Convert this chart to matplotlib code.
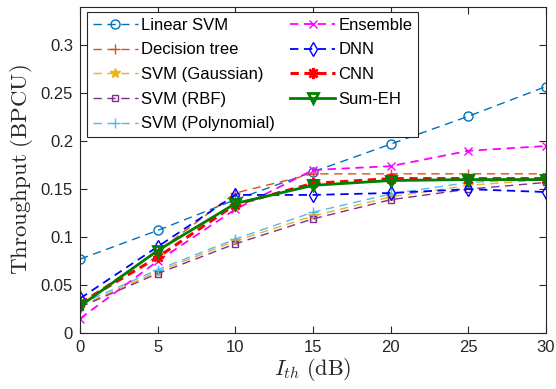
import matplotlib.pyplot as plt

plt.rcParams['font.family'] = ['Liberation Sans', 'DejaVu Sans']
plt.rcParams['mathtext.fontset'] = 'cm'
plt.rcParams['lines.scale_dashes'] = False
plt.rcParams['lines.dashed_pattern'] = [6, 4]

# Ith (dB)
ith = [0, 5, 10, 15, 20, 25, 30]

linear_svm = [0.077, 0.107, 0.139, 0.168, 0.197, 0.226, 0.257]
decision_tree = [0.031, 0.085, 0.146, 0.166, 0.166, 0.166, 0.166]
svm_gauss = [0.028, 0.064, 0.096, 0.122, 0.142, 0.154, 0.160]
svm_rbf = [0.027, 0.062, 0.093, 0.119, 0.139, 0.150, 0.157]
svm_poly = [0.030, 0.066, 0.098, 0.126, 0.145, 0.157, 0.161]
ensemble = [0.015, 0.075, 0.129, 0.170, 0.174, 0.190, 0.195]
dnn = [0.036, 0.090, 0.144, 0.144, 0.146, 0.150, 0.147]
cnn = [0.031, 0.079, 0.134, 0.156, 0.161, 0.161, 0.161]
sum_eh = [0.028, 0.086, 0.135, 0.154, 0.159, 0.160, 0.160]

fig = plt.figure(figsize=(5.56, 3.89), dpi=100)
ax = fig.add_axes([0.1439, 0.144, 0.838, 0.838])

ax.plot(ith, linear_svm, '--o', color='#0072BD', lw=1.0, ms=6.5, mfc='none', label='Linear SVM')
ax.plot(ith, decision_tree, '--+', color='#D95319', lw=1.0, ms=7, label='Decision tree')
ax.plot(ith, svm_gauss, '--*', color='#EDB120', lw=1.0, ms=7, label='SVM (Gaussian)')
ax.plot(ith, svm_rbf, '--s', color='#7E2F8E', lw=1.0, ms=5, mfc='none', label='SVM (RBF)')
ax.plot(ith, svm_poly, '--+', color='#4DBEEE', lw=1.0, ms=7, label='SVM (Polynomial)')
ax.plot(ith, ensemble, '--x', color='magenta', lw=1.3, ms=6, label='Ensemble')
ax.plot(ith, dnn, '--d', color='blue', lw=1.3, ms=7, mfc='none', label='DNN')
ax.plot(ith, cnn, '--', marker=(8, 2, 0), color='red', lw=2.2, ms=8, mew=1.8, label='CNN')
ax.plot(ith, sum_eh, '-v', color='#008000', lw=2.0, ms=7, mfc='none', mew=2.0, label='Sum-EH')

ax.set_xlim(0, 30)
ax.set_ylim(0, 0.34)
ax.set_xticks(ith)
ax.set_yticks([0, 0.05, 0.1, 0.15, 0.2, 0.25, 0.3])
ax.set_yticklabels(['0', '0.05', '0.1', '0.15', '0.2', '0.25', '0.3'])
ax.tick_params(direction='in', top=True, right=True, labelsize=12, colors='#262626',
               length=5, pad=5)
for s in ax.spines.values():
    s.set_color('#262626')
    s.set_linewidth(0.8)

ax.set_xlabel(r'$I_{th}\ \mathrm{(dB)}$', fontsize=16, color='#262626', labelpad=1)
ax.set_ylabel(r'$\mathrm{Throughput\ (BPCU)}$', fontsize=16.5, color='#262626', labelpad=4)

leg = ax.legend(ncol=2, loc='upper left', bbox_to_anchor=(0.015, 0.985), fontsize=12,
                frameon=True, fancybox=False, edgecolor='#262626', framealpha=1,
                handlelength=2.7, handletextpad=0.2, labelspacing=0.58,
                columnspacing=0.9, borderpad=0.35, borderaxespad=0)
leg.get_frame().set_linewidth(0.8)

fig.savefig('out.png', dpi=100)
